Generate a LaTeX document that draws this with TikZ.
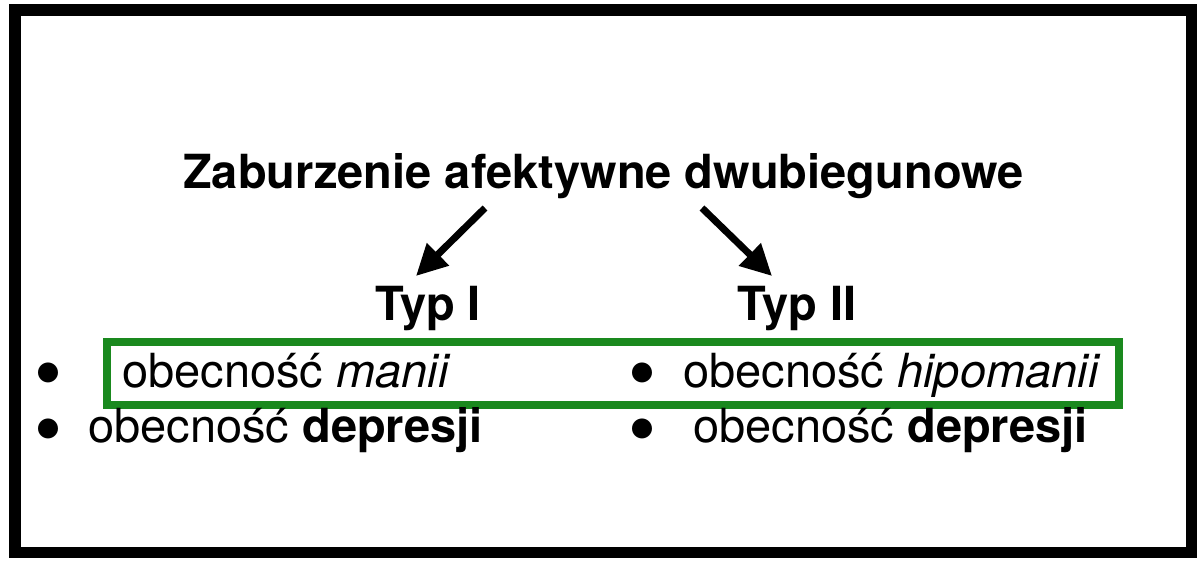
\documentclass[tikz,border=0pt]{standalone}
\usepackage{fontspec}
\setmainfont{TeX Gyre Heros}
\usetikzlibrary{arrows.meta}
\definecolor{boxgreen}{RGB}{26,137,30}
\newcommand{\bigbul}{\scalebox{1.7}{\textbullet}}
\begin{document}
\begin{tikzpicture}[x=1pt,y=-1pt,
  txt/.style={inner sep=0pt,font=\fontsize{47}{56}\selectfont},
  bul/.style={inner sep=0pt,anchor=north,font=\fontsize{47}{47}\selectfont},
  bigarrow/.style={line width=7pt,-{Triangle[length=31pt,width=30pt]}}]
\useasboundingbox (0,0) rectangle (1203,564);
\draw[line width=11.5pt] (15,10) rectangle (1191.5,552.5);
\node[txt,anchor=base] (title) at (603.5,189) {\bfseries Zaburzenie afektywne dwubiegunowe};
\node[txt,anchor=base] (typ1) at (428,320) {\bfseries Typ I};
\node[txt,anchor=base] (typ2) at (797,320) {\bfseries Typ II};
\coordinate (a1s) at (485,208);
\coordinate (a1e) at (416,276);
\coordinate (a2s) at (702,208);
\coordinate (a2e) at (772,276);
\draw[bigarrow] (a1s) -- (a1e);
\draw[bigarrow] (a2s) -- (a2e);
\draw[boxgreen,line width=7.5pt] (107,342) rectangle (1119,405);
\node[bul] (b1) at (48,362.5) {\bigbul};
\node[bul] (b2) at (48,419) {\bigbul};
\node[bul] (b3) at (642,362.5) {\bigbul};
\node[bul] (b4) at (642,419) {\bigbul};
\node[txt,anchor=base west] (l1) at (122,387) {obecność \textit{manii}};
\node[txt,anchor=base west] (l2) at (88,442) {obecność \textbf{depresji}};
\node[txt,anchor=base west] (r1) at (683,387) {obecność \textit{hipomanii}};
\node[txt,anchor=base west] (r2) at (693,442) {obecność \textbf{depresji}};
\end{tikzpicture}
\end{document}
